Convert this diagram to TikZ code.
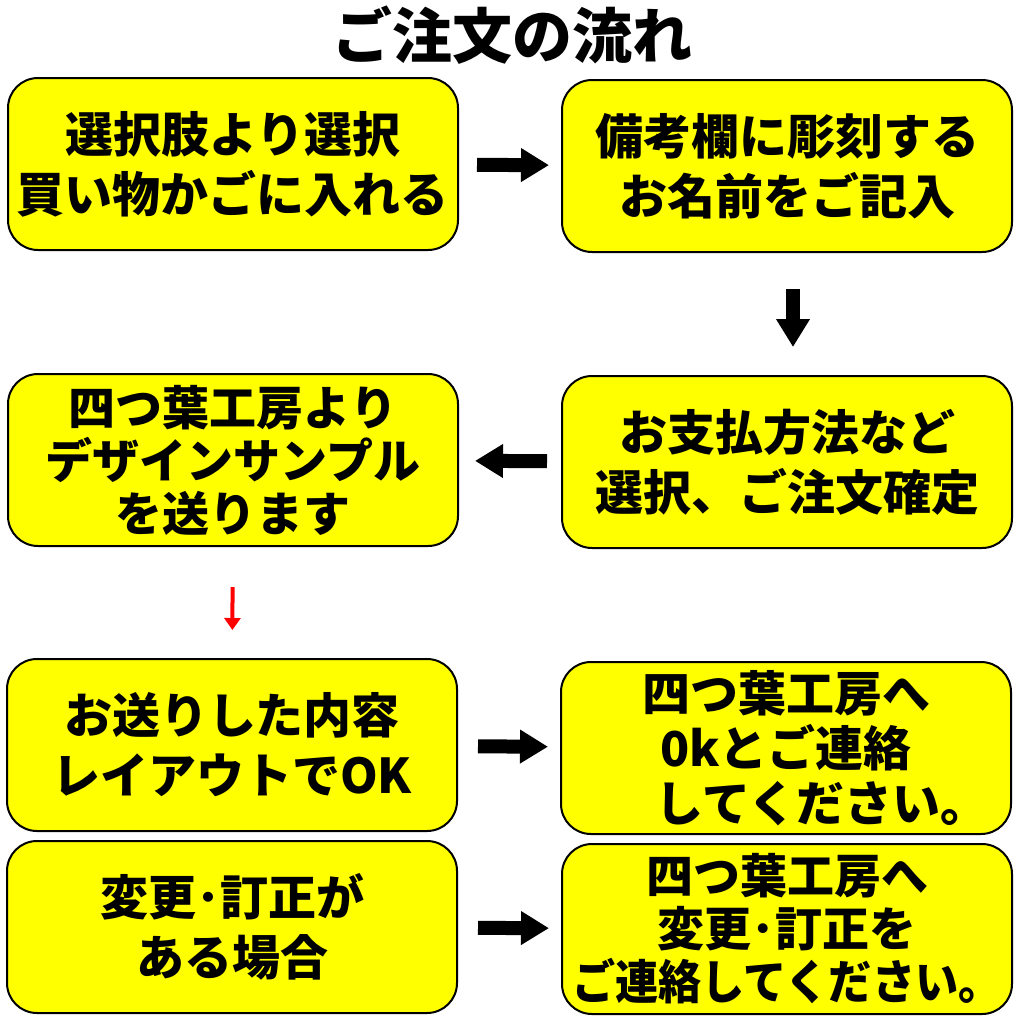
\documentclass[tikz,border=0pt]{standalone}
\usepackage{fontspec}
\usepackage{tikz}
\usetikzlibrary{arrows.meta}
\newfontfamily\jp{Noto Sans CJK JP}
\definecolor{boxyellow}{RGB}{255,255,0}

\tikzset{
	box/.style = {draw=black, line width=1pt, fill=boxyellow, rounded corners=15pt,
		minimum width=225pt, minimum height=86pt, inner sep=0pt, align=center,
		font=\jp\bfseries\fontsize{24}{30}\selectfont},
	boxthree/.style = {box, font=\jp\bfseries\fontsize{23.5}{26.5}\selectfont},
	bigarrow/.style = {line width=7pt, -{Triangle[length=14pt,width=16pt]}},
	redarrow/.style = {red, line width=2pt, -{Triangle[length=6pt,width=8pt]}}
}

\begin{document}
\begin{tikzpicture}[x=0.5pt,y=-0.5pt]
%
	\useasboundingbox (0,0) rectangle (1016,1018);
	\node[font=\jp\bfseries\fontsize{30}{36}\selectfont] (title) at (512,35) {ご注文の流れ};
%
	\node[box] (b1) at (233,164) {選択肢より選択\\買い物かごに入れる};
	\node[box] (b2) at (787,166) {備考欄に彫刻する\\お名前をご記入};
	\node[boxthree] (b3) at (233,460) {四つ葉工房より\\デザインサンプル\\を送ります};
	\node[box] (b4) at (787,462) {お支払方法など\\選択、ご注文確定};
	\node[box] (b5) at (232,745) {お送りした内容\\レイアウトでOK};
	\node[boxthree, font=\jp\bfseries\fontsize{24}{27.5}\selectfont] (b6) at (786,748)
		{四つ葉工房へ\\0kとご連絡\\\hspace{1.5em}してください。};
	\node[box] (b7) at (232,927) {変更･訂正が\\ある場合};
	\node[boxthree, minimum height=85pt] (b8) at (787,929)
		{四つ葉工房へ\\変更･訂正を\\\scalebox{0.92}[1]{ご連絡してください。}};
%
	\draw[bigarrow, shorten <=9pt, shorten >=6pt] (b1) -- (b2);
	\draw[bigarrow, shorten <=18pt, shorten >=14pt] ([xshift=3pt]b2.south) -- ([xshift=3pt]b4.north);
	\draw[bigarrow, shorten <=7pt, shorten >=8pt] (b4) -- (b3);
	\draw[redarrow, shorten <=20pt, shorten >=14pt] (b3) -- (b5);
	\draw[bigarrow, shorten <=10pt, shorten >=6pt] (b5) -- (b6);
	\draw[bigarrow, shorten <=10pt, shorten >=6pt] (b7) -- (b8);
\end{tikzpicture}
\end{document}
